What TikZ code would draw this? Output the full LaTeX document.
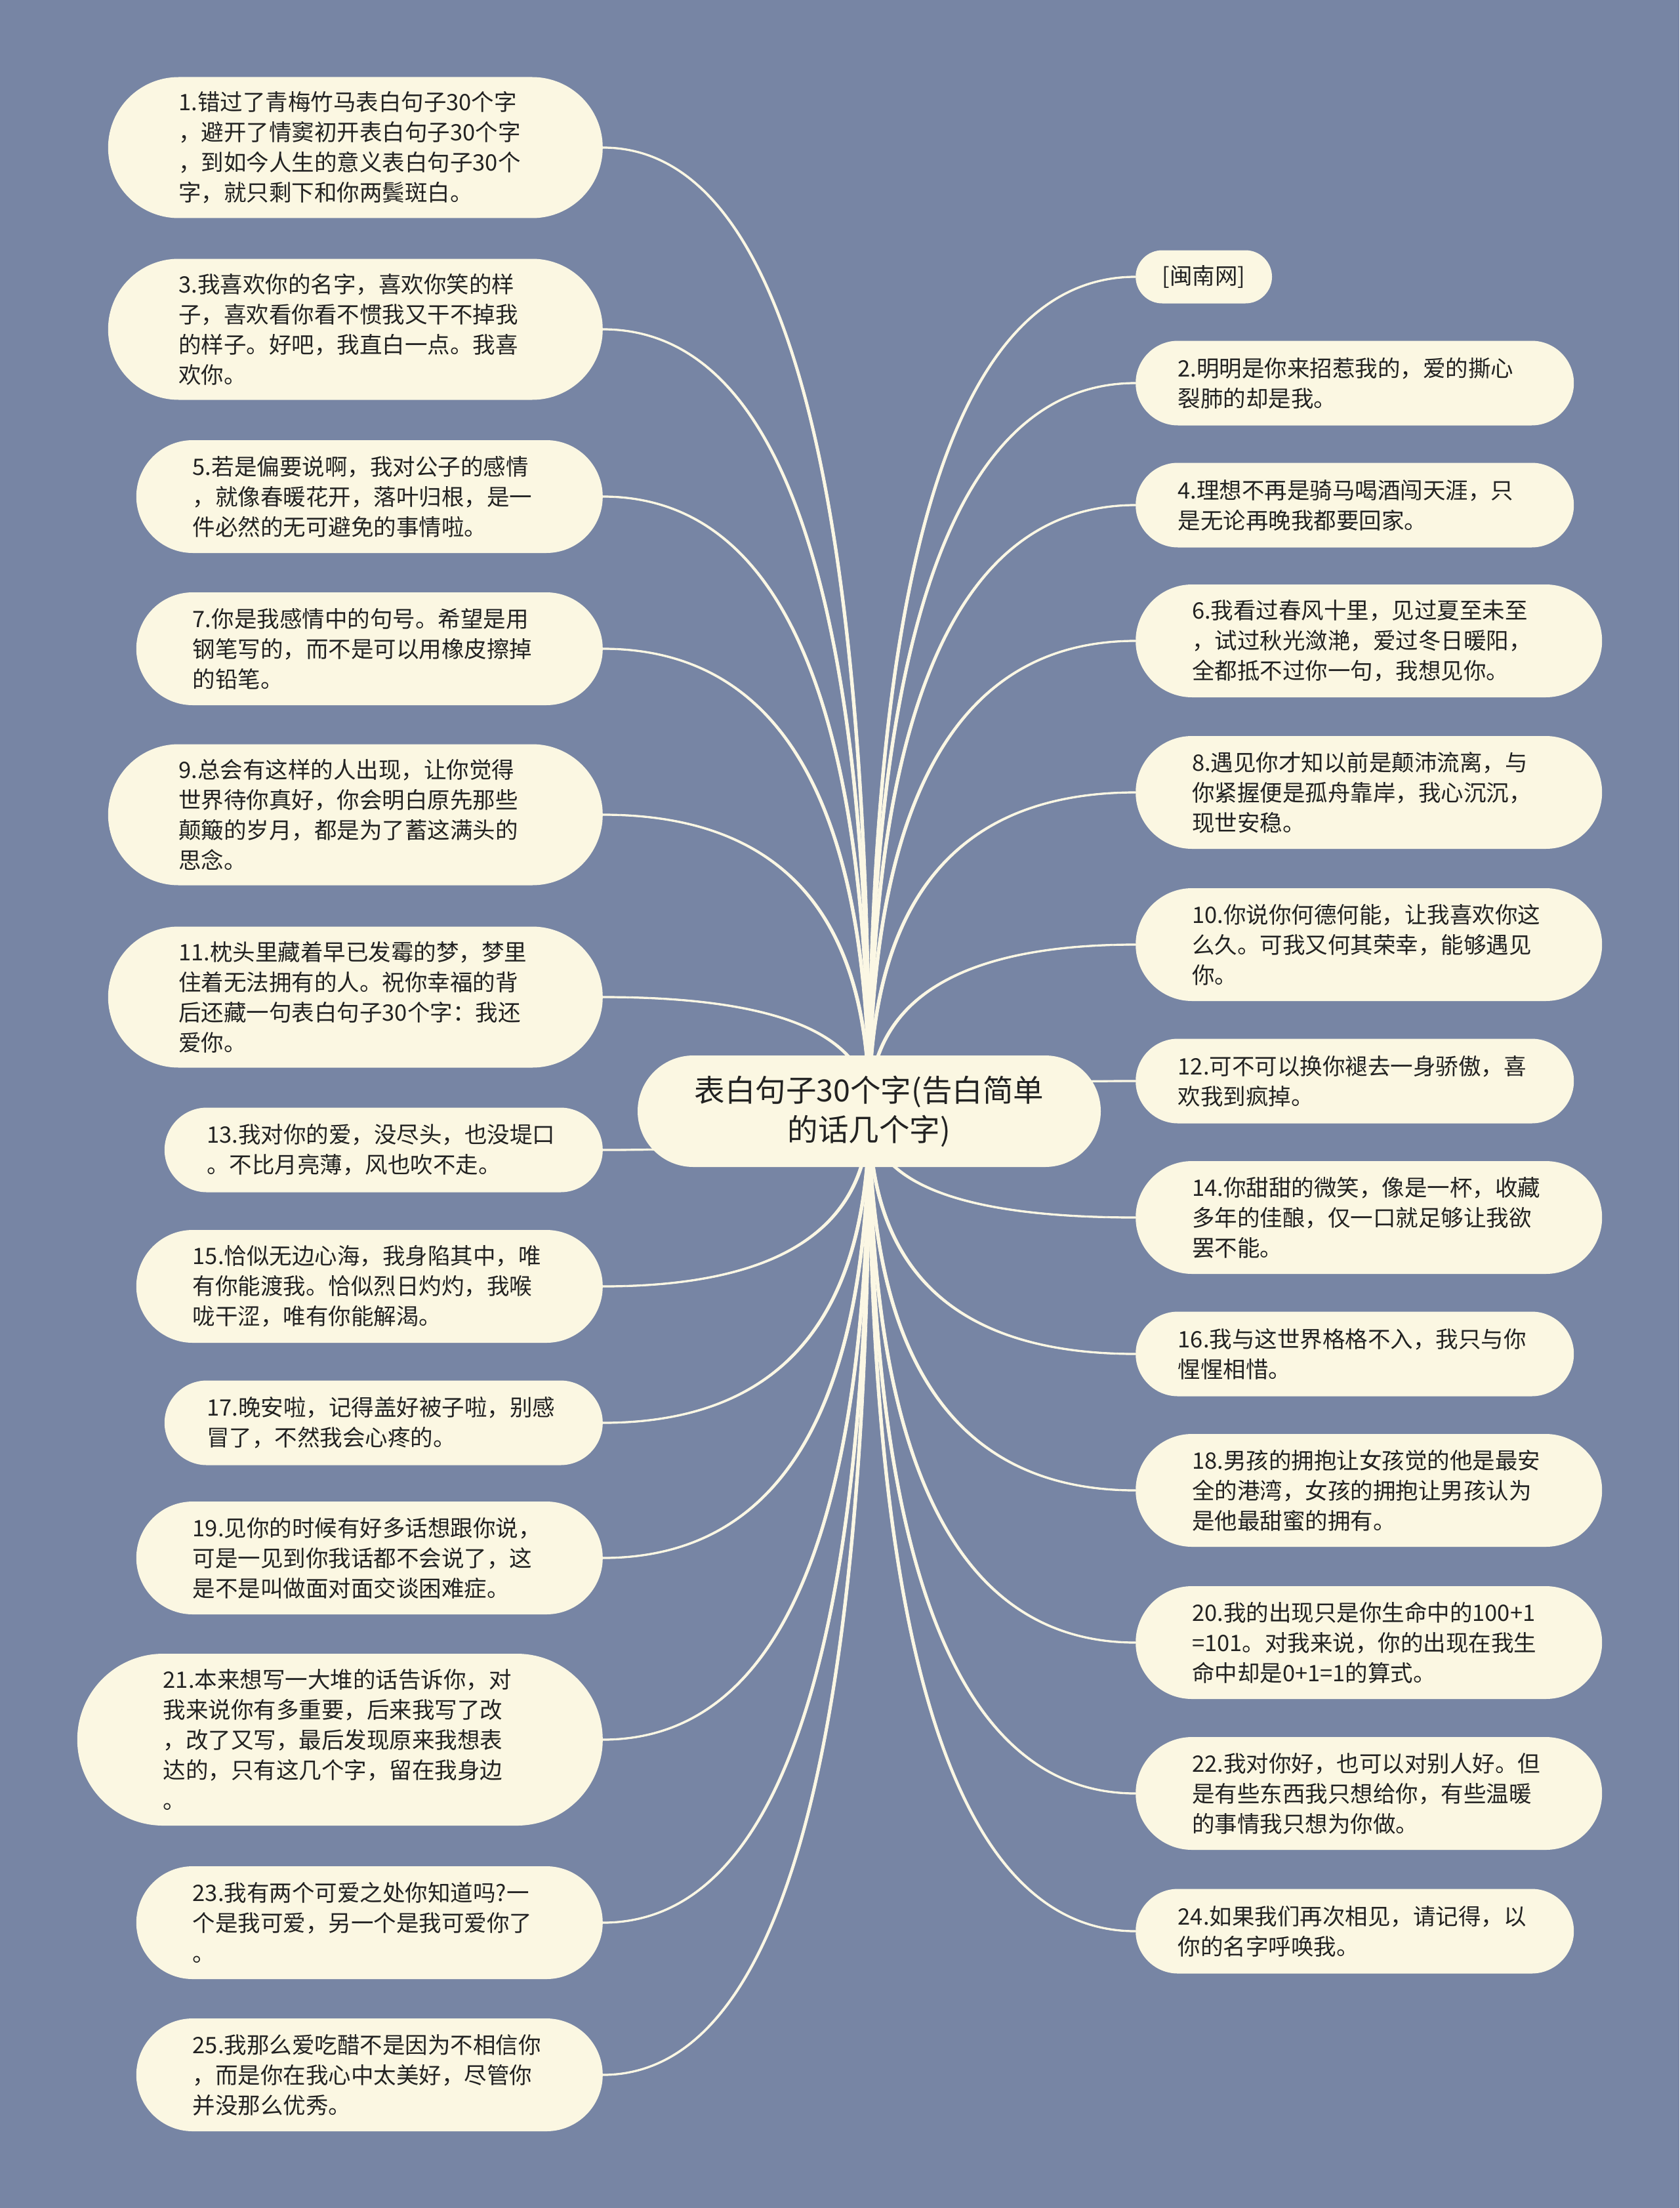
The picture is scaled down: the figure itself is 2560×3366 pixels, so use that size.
\documentclass[tikz,border=0pt]{standalone}
\usepackage{fontspec}
\setmainfont{Noto Sans CJK SC}
\usetikzlibrary{calc,backgrounds}
\definecolor{bgc}{RGB}{119,133,164}
\definecolor{nodefill}{RGB}{251,247,226}
\definecolor{wirec}{RGB}{251,247,228}
\definecolor{txtc}{RGB}{34,34,34}
\tikzset{
 leaf/.style={fill=nodefill, text=txtc, font=\fontsize{34.5pt}{46pt}\selectfont, text width=539pt, align=left, inner ysep=0pt},
 l2/.style={leaf, minimum height=129pt, inner xsep=64.5pt, rounded corners=64.5pt},
 l3/.style={leaf, minimum height=172pt, inner xsep=86pt, rounded corners=86pt},
 l4/.style={leaf, minimum height=215pt, inner xsep=107.5pt, rounded corners=107.5pt},
 l5/.style={leaf, minimum height=262pt, inner xsep=131pt, rounded corners=131pt},
 tag/.style={fill=nodefill, text=txtc, font=\fontsize{34.5pt}{46pt}\selectfont, minimum height=81pt, inner xsep=40.5pt, inner ysep=0pt, rounded corners=40.5pt},
 root/.style={fill=nodefill, text=txtc, font=\fontsize{46.5pt}{60pt}\selectfont, text width=536pt, align=center, minimum height=170pt, inner xsep=85pt, inner ysep=0pt, rounded corners=85pt},
 wirestyle/.style={fill=wirec, draw=wirec, line width=0.8pt},
}
\newcommand\mmwire[3]{%
 \coordinate (wa) at ($(#1.#2)+(0,#3*1.2)$);
 \coordinate (wb) at ($(#1.#2)-(0,#3*1.2)$);
 \coordinate (qa) at (CL |- wa);
 \coordinate (qb) at (CR |- wb);
 \path[wirestyle] (CL) .. controls ($(CL)!0.6667!(qa)$) and ($(wa)!0.6667!(qa)$) .. (wa)
   -- (wb) .. controls ($(wb)!0.6667!(qb)$) and ($(CR)!0.6667!(qb)$) .. (CR) -- cycle;
}
\begin{document}
\begin{tikzpicture}[x=1pt,y=-1pt]
\useasboundingbox (0,0) rectangle (2560,3366);
\begin{scope}[on background layer]
 \fill[bgc] (0,0) rectangle (2560,3366);
\end{scope}

% root
\node[root] (C) at (1325,1694) {表白句子30个字(告白简单\\的话几个字)};
\coordinate (CL) at ($(C.center)+(-2.4,0)$);
\coordinate (CR) at ($(C.center)+(2.4,0)$);

% left column
\node[l4, anchor=east] (n1) at (919,225) {1.错过了青梅竹马表白句子30个字\\，避开了情窦初开表白句子30个字\\，到如今人生的意义表白句子30个\\字，就只剩下和你两鬓斑白。};
\node[l4, anchor=east] (n3) at (919,502) {3.我喜欢你的名字，喜欢你笑的样\\子，喜欢看你看不惯我又干不掉我\\的样子。好吧，我直白一点。我喜\\欢你。};
\node[l3, anchor=east] (n5) at (919,757) {5.若是偏要说啊，我对公子的感情\\，就像春暖花开，落叶归根，是一\\件必然的无可避免的事情啦。};
\node[l3, anchor=east] (n7) at (919,989) {7.你是我感情中的句号。希望是用\\钢笔写的，而不是可以用橡皮擦掉\\的铅笔。};
\node[l4, anchor=east] (n9) at (919,1242) {9.总会有这样的人出现，让你觉得\\世界待你真好，你会明白原先那些\\颠簸的岁月，都是为了蓄这满头的\\思念。};
\node[l4, anchor=east] (n11) at (919,1520) {11.枕头里藏着早已发霉的梦，梦里\\住着无法拥有的人。祝你幸福的背\\后还藏一句表白句子30个字：我还\\爱你。};
\node[l2, anchor=east] (n13) at (919,1753) {13.我对你的爱，没尽头，也没堤口\\。不比月亮薄，风也吹不走。};
\node[l3, anchor=east] (n15) at (919,1961) {15.恰似无边心海，我身陷其中，唯\\有你能渡我。恰似烈日灼灼，我喉\\咙干涩，唯有你能解渴。};
\node[l2, anchor=east] (n17) at (919,2169) {17.晚安啦，记得盖好被子啦，别感\\冒了，不然我会心疼的。};
\node[l3, anchor=east] (n19) at (919,2375) {19.见你的时候有好多话想跟你说，\\可是一见到你我话都不会说了，这\\是不是叫做面对面交谈困难症。};
\node[l5, anchor=east] (n21) at (919,2652) {21.本来想写一大堆的话告诉你，对\\我来说你有多重要，后来我写了改\\，改了又写，最后发现原来我想表\\达的，只有这几个字，留在我身边\\。};
\node[l3, anchor=east] (n23) at (919,2931) {23.我有两个可爱之处你知道吗?一\\个是我可爱，另一个是我可爱你了\\。};
\node[l3, anchor=east] (n25) at (919,3163) {25.我那么爱吃醋不是因为不相信你\\，而是你在我心中太美好，尽管你\\并没那么优秀。};

% right column
\node[tag, anchor=west] (mn) at (1731,422) {[闽南网]};
\node[l2, anchor=west] (n2) at (1731,584) {2.明明是你来招惹我的，爱的撕心\\裂肺的却是我。};
\node[l2, anchor=west] (n4) at (1731,770) {4.理想不再是骑马喝酒闯天涯，只\\是无论再晚我都要回家。};
\node[l3, anchor=west] (n6) at (1731,977) {6.我看过春风十里，见过夏至未至\\，试过秋光潋滟，爱过冬日暖阳，\\全都抵不过你一句，我想见你。};
\node[l3, anchor=west] (n8) at (1731,1208) {8.遇见你才知以前是颠沛流离，与\\你紧握便是孤舟靠岸，我心沉沉，\\现世安稳。};
\node[l3, anchor=west] (n10) at (1731,1440) {10.你说你何德何能，让我喜欢你这\\么久。可我又何其荣幸，能够遇见\\你。};
\node[l2, anchor=west] (n12) at (1731,1648) {12.可不可以换你褪去一身骄傲，喜\\欢我到疯掉。};
\node[l3, anchor=west] (n14) at (1731,1856) {14.你甜甜的微笑，像是一杯，收藏\\多年的佳酿，仅一口就足够让我欲\\罢不能。};
\node[l2, anchor=west] (n16) at (1731,2064) {16.我与这世界格格不入，我只与你\\惺惺相惜。};
\node[l3, anchor=west] (n18) at (1731,2272) {18.男孩的拥抱让女孩觉的他是最安\\全的港湾，女孩的拥抱让男孩认为\\是他最甜蜜的拥有。};
\node[l3, anchor=west] (n20) at (1731,2504) {20.我的出现只是你生命中的100+1\\=101。对我来说，你的出现在我生\\命中却是0+1=1的算式。};
\node[l3, anchor=west] (n22) at (1731,2734) {22.我对你好，也可以对别人好。但\\是有些东西我只想给你，有些温暖\\的事情我只想为你做。};
\node[l2, anchor=west] (n24) at (1731,2944) {24.如果我们再次相见，请记得，以\\你的名字呼唤我。};

% connectors
\begin{scope}[on background layer]
 \foreach \n in {n1,n3,n5,n7,n9,n11} {\mmwire{\n}{east}{1}}
 \foreach \n in {n13,n15,n17,n19,n21,n23,n25} {\mmwire{\n}{east}{-1}}
 \foreach \n in {mn,n2,n4,n6,n8,n10,n12} {\mmwire{\n}{west}{-1}}
 \foreach \n in {n14,n16,n18,n20,n22,n24} {\mmwire{\n}{west}{1}}
\end{scope}
\end{tikzpicture}
\end{document}
